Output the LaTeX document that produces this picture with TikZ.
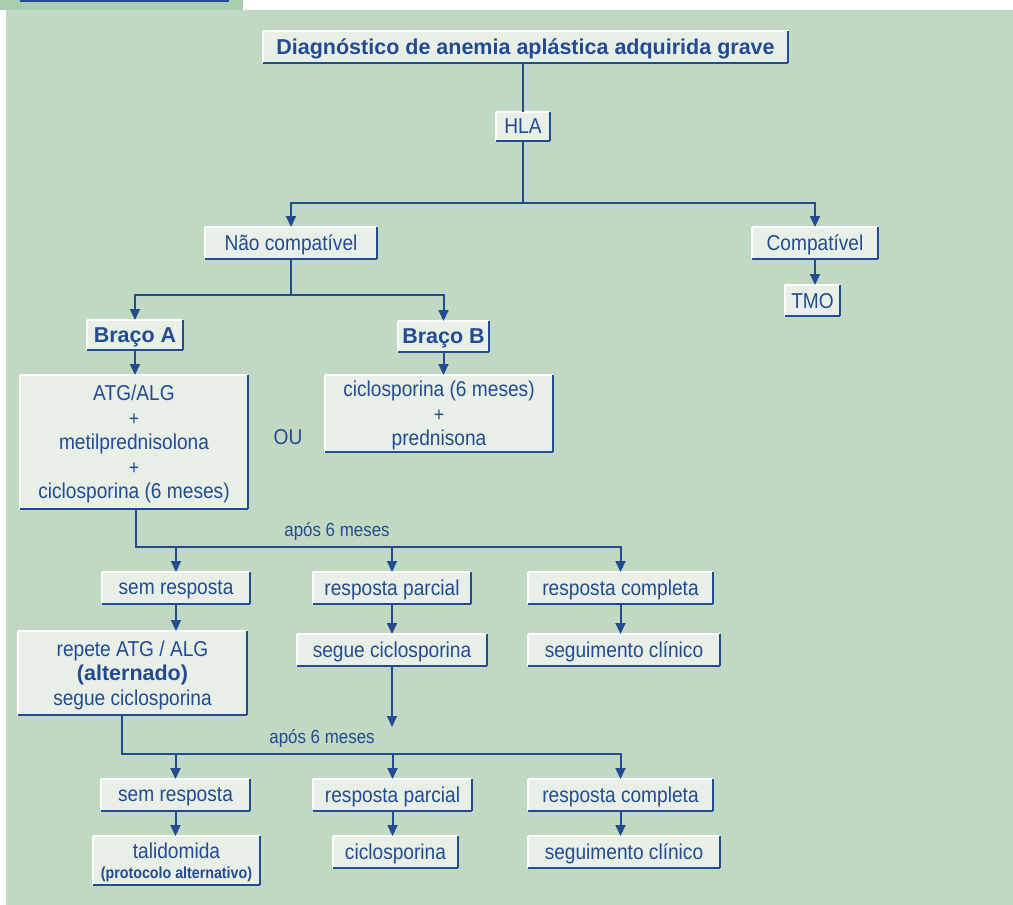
\documentclass[tikz,border=0pt]{standalone}
\usepackage{fontspec}
\setmainfont{Liberation Sans}
\newfontfamily\narrow[FakeStretch=0.89]{Liberation Sans}
\usetikzlibrary{arrows.meta}
\definecolor{bggreen}{HTML}{C1D9C2}
\definecolor{tabgreen}{HTML}{A9CDAE}
\definecolor{boxfill}{HTML}{E7EFE6}
\definecolor{dblue}{HTML}{234B91}
\newcommand{\mais}{{\fontsize{20}{24.5}\selectfont +}}

\begin{document}
\begin{tikzpicture}[x=1pt,y=-1pt]
  \tikzstyle{hilite} = [draw=white, line width=1.6pt]
  \tikzstyle{rim} = [draw=dblue, line width=1.8pt]
  \tikzstyle{box} = [rectangle, fill=boxfill, text=dblue, inner sep=0pt, outer sep=0pt, align=center,
    minimum height=32pt, text depth=0pt, font=\narrow\fontsize{21.5}{24.5}\selectfont,
    append after command={(\tikzlastnode.south west) edge[hilite] (\tikzlastnode.north west)
      (\tikzlastnode.north west) edge[hilite] (\tikzlastnode.north east)
      (\tikzlastnode.south west) edge[rim] (\tikzlastnode.south east)
      (\tikzlastnode.south east) edge[rim] (\tikzlastnode.north east)}]
  \tikzstyle{boldbox} = [box, font=\bfseries\fontsize{21.5}{24.5}\selectfont]
  \tikzstyle{txt} = [text=dblue, inner sep=0pt, font=\narrow\fontsize{21.5}{24.5}\selectfont]
  \tikzstyle{wire} = [draw=dblue, line width=2pt]
  \tikzstyle{arr} = [wire, -{Triangle[length=11pt,width=10pt]}]

  % page and tab
  \fill[white] (0,0) rectangle (1013,905);
  \fill[bggreen] (6,10) rectangle (1013,905);
  \fill[tabgreen] (0,0) rectangle (243,10);
  \fill[dblue] (20,0) rectangle (229,1.5);
  \useasboundingbox (0,0) rectangle (1013,905);

  \node (title) [boldbox, minimum width=525pt] at (525.5,47) {Diagnóstico de anemia aplástica adquirida grave};
  \node (hla) [box, minimum width=54pt, minimum height=29pt] at (523,126.5) {HLA};
  \node (nao) [box, minimum width=172pt] at (291,243) {Não compatível};
  \node (compat) [box, minimum width=126pt] at (815,243) {Compatível};
  \node (tmo) [box, minimum width=55pt, minimum height=31pt] at (812.5,300.5) {TMO};

  \node (bracoA) [boldbox, minimum width=96pt, minimum height=30pt] at (135,335) {Braço A};
  \node (bracoB) [boldbox, minimum width=91pt, minimum height=31pt] at (443.5,336.5) {Braço B};
  \node (armA) [box, minimum width=228pt, minimum height=134pt] at (134,442)
    {ATG/ALG\\\mais\\metilprednisolona\\\mais\\ciclosporina (6 meses)};
  \node (armB) [box, minimum width=228pt, minimum height=77pt] at (439,413.5)
    {ciclosporina (6 meses)\\\mais\\prednisona};
  \node (ou) [txt] at (288,437) {OU};

  \node (after1) [txt, font=\narrow\fontsize{19}{22}\selectfont] at (337,531) {após 6 meses};
  \node (sem1) [box, minimum width=148pt] at (176,588) {sem resposta};
  \node (par1) [box, minimum width=158pt] at (392,588) {resposta parcial};
  \node (com1) [box, minimum width=185pt] at (620.5,588) {resposta completa};
  \node (rep) [box, minimum width=229pt, minimum height=84pt] at (132.5,673)
    {repete ATG / ALG\\{\rmfamily\bfseries (alternado)}\\segue ciclosporina};
  \node (seg) [box, minimum width=190pt] at (392,650) {segue ciclosporina};
  \node (clin1) [box, minimum width=192pt] at (624,650) {seguimento clínico};

  \node (after2) [txt, font=\narrow\fontsize{19}{22}\selectfont] at (322,738) {após 6 meses};
  \node (sem2) [box, minimum width=149pt] at (175.5,795) {sem resposta};
  \node (par2) [box, minimum width=159pt] at (392.5,795) {resposta parcial};
  \node (com2) [box, minimum width=185pt] at (620.5,795) {resposta completa};
  \node (tal) [box, minimum width=167pt, minimum height=49pt] at (176.5,860.5)
    {talidomida\\[-4pt]{\bfseries\fontsize{16}{18}\selectfont (protocolo alternativo)}};
  \node (cic2) [box, minimum width=125pt] at (395.5,852) {ciclosporina};
  \node (clin2) [box, minimum width=192pt] at (624,852) {seguimento clínico};

  \coordinate (bus1) at (523,203);
  \coordinate (bus2) at (291,295);
  \coordinate (bus3) at (136,547);
  \coordinate (bus4) at (122,754);
  \coordinate (segEnd) at (392,727);

  % connectors
  \draw[wire] (title.south -| hla.north) -- (hla.north);
  \draw[wire] (hla.south) -- (bus1);
  \draw[arr] (bus1) -| (nao.north);
  \draw[arr] (bus1) -| (compat.north);
  \draw[arr] (compat.south) -- (compat.south |- tmo.north);
  \draw[wire] (nao.south) -- (bus2);
  \draw[arr] (bus2) -| (bracoA.north);
  \draw[arr] (bus2) -| (bracoB.north);
  \draw[arr] (bracoA.south) -- (bracoA.south |- armA.north);
  \draw[arr] (bracoB.south) -- (bracoB.south |- armB.north);

  \draw[arr] (armA.south -| bus3) -- (bus3) -| (com1.north);
  \draw[arr] (bus3 -| sem1.north) -- (sem1.north);
  \draw[arr] (bus3 -| par1.north) -- (par1.north);
  \draw[arr] (sem1.south) -- (sem1.south |- rep.north);
  \draw[arr] (par1.south) -- (par1.south |- seg.north);
  \draw[arr] (com1.south) -- (com1.south |- clin1.north);
  \draw[arr] (seg.south) -- (segEnd);

  \draw[arr] (rep.south -| bus4) -- (bus4) -| (com2.north);
  \draw[arr] (bus4 -| sem2.north) -- (sem2.north);
  \draw[arr] (bus4 -| par2.north) -- (par2.north);
  \draw[arr] (sem2.south) -- (sem2.south |- tal.north);
  \draw[arr] (par2.south) -- (par2.south |- cic2.north);
  \draw[arr] (com2.south) -- (com2.south |- clin2.north);
\end{tikzpicture}
\end{document}
